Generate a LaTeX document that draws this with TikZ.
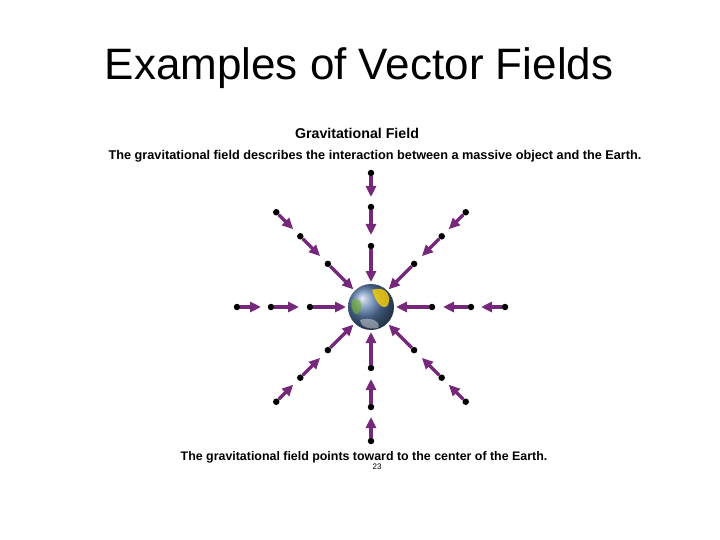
\documentclass[tikz,border=0pt]{standalone}
\usepackage{fontspec}
\setmainfont{Liberation Sans}
\usetikzlibrary{arrows.meta,calc}
\definecolor{vpurple}{RGB}{118,40,122}
\definecolor{eblue}{RGB}{90,125,175}
\begin{document}
\begin{tikzpicture}[x=1pt,y=-1pt,
  vec/.style={draw=vpurple,line width=3.4pt,-{Triangle[length=11pt,width=10pt]}},
  dotn/.style={circle,fill=black,inner sep=0pt,minimum size=6.5pt},
  lbl/.style={inner sep=0pt,font=\bfseries}]
\useasboundingbox (0,0) rectangle (720,540);
\node (title) at (359,68) {\fontsize{44}{48}\selectfont Examples of Vector Fields};
\node[lbl,font=\bfseries\fontsize{14.2}{16}\selectfont] (sub) at (357,133) {Gravitational Field};
\node[lbl,font=\bfseries\fontsize{12.7}{14}\selectfont] (desc) at (375,156) {The gravitational field describes the interaction between a massive object and the Earth.};
\node[lbl,font=\bfseries\fontsize{12.4}{14}\selectfont] (cap) at (364,457) {The gravitational field points toward to the center of the Earth.};
\node[inner sep=0pt,font=\fontsize{8}{9}\selectfont] (pg) at (377,467) {23};
\coordinate (c) at (371,307);
\foreach \a in {0,45,...,315}{
  \foreach \r/\e/\i in {134/110/o,100/72/m,61/25/n}{
    \node[dotn] (d\a\i) at ($(c)+(\a:\r)$) {};
    \coordinate (t\a\i) at ($(c)+(\a:\e)$);
    \draw[vec] (d\a\i) -- (t\a\i);
  }
}
\node[circle,minimum size=46pt,inner sep=0pt,ball color=eblue,draw=none] (earth) at (c) {};
\begin{scope}
\clip (c) circle (23);
\fill[yellow!70!orange,opacity=0.8] (372,290) .. controls (385,285) and (392,295) .. (388,305) .. controls (382,312) and (375,300) .. (372,290);
\fill[green!40!brown,opacity=0.6] (352,300) .. controls (358,296) and (364,302) .. (360,312) .. controls (355,318) and (350,310) .. (352,300);
\fill[white,opacity=0.4] (360,320) .. controls (370,316) and (382,322) .. (378,328) .. controls (368,330) and (360,326) .. (360,320);
\end{scope}
\end{tikzpicture}
\end{document}
